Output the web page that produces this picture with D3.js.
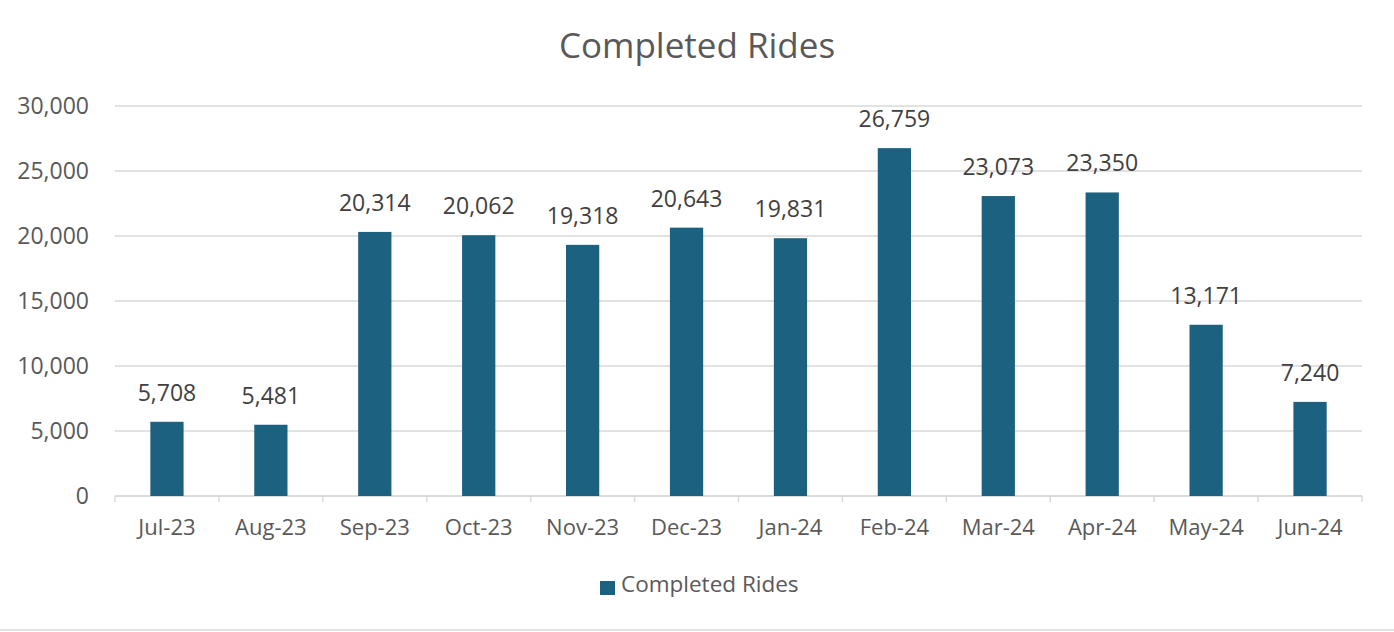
<!DOCTYPE html>
<html>
<head>
<meta charset="utf-8">
<script src="https://cdn.jsdelivr.net/npm/d3@7"></script>
<style>
  body { margin: 0; background: #fff; }
  text { font-family: "Open Sans", "Noto Sans", sans-serif; fill: #595959; }
</style>
</head>
<body>
<div id="plot"></div>
<script>
var months = ["Jul-23", "Aug-23", "Sep-23", "Oct-23", "Nov-23", "Dec-23",
              "Jan-24", "Feb-24", "Mar-24", "Apr-24", "May-24", "Jun-24"];
var rides = [5708, 5481, 20314, 20062, 19318, 20643, 19831, 26759, 23073, 23350, 13171, 7240];
var yTicks = [0, 5000, 10000, 15000, 20000, 25000, 30000];
var seriesName = "Completed Rides";

var W = 1394, H = 632;
var margin = {top: 106, right: 32, bottom: 136, left: 115},
    width = W - margin.left - margin.right,
    height = H - margin.top - margin.bottom;

var svg = d3.select("#plot")
  .append("svg")
    .attr("width", W)
    .attr("height", H);

var g = svg.append("g")
    .attr("transform", "translate(" + margin.left + "," + margin.top + ")");

var x = d3.scaleBand()
    .domain(months)
    .range([0, width])
    .paddingInner(0.68)
    .paddingOuter(0.34);

var y = d3.scaleLinear()
    .domain([0, 30000])
    .range([height, 0]);

var fmt = d3.format(",");

// gridlines
g.selectAll(".grid")
    .data(yTicks)
    .enter()
    .append("line")
      .attr("x1", 0)
      .attr("x2", width)
      .attr("y1", function(d) { return y(d); })
      .attr("y2", function(d) { return y(d); })
      .style("stroke", "#d9d9d9")
      .style("stroke-width", 1.3);

// y labels
g.selectAll(".ylab")
    .data(yTicks)
    .enter()
    .append("text")
      .attr("x", -26)
      .attr("y", function(d) { return y(d); })
      .attr("dy", "0.35em")
      .attr("text-anchor", "end")
      .style("font-size", "23px")
      .text(function(d) { return fmt(d); });

// x axis baseline + ticks
var step = x.step();
g.append("line")
    .attr("x1", 0).attr("x2", width)
    .attr("y1", height).attr("y2", height)
    .style("stroke", "#d9d9d9")
    .style("stroke-width", 1.5);

g.selectAll(".xtick")
    .data(d3.range(months.length + 1))
    .enter()
    .append("line")
      .attr("x1", function(i) { return i * step; })
      .attr("x2", function(i) { return i * step; })
      .attr("y1", height)
      .attr("y2", height + 6)
      .style("stroke", "#d9d9d9")
      .style("stroke-width", 1.5);

g.selectAll(".xlab")
    .data(months)
    .enter()
    .append("text")
      .attr("x", function(d) { return x(d) + x.bandwidth() / 2; })
      .attr("y", height + 39)
      .attr("text-anchor", "middle")
      .style("font-size", "22px")
      .text(function(d) { return d; });

// bars
g.selectAll(".bar")
    .data(rides)
    .enter()
    .append("rect")
      .attr("x", function(d, i) { return x(months[i]); })
      .attr("y", function(d) { return y(d); })
      .attr("width", x.bandwidth())
      .attr("height", function(d) { return height - y(d); })
      .style("fill", "#1d6180");

// value labels
g.selectAll(".val")
    .data(rides)
    .enter()
    .append("text")
      .attr("x", function(d, i) { return x(months[i]) + x.bandwidth() / 2; })
      .attr("y", function(d) { return y(d) - 21; })
      .attr("text-anchor", "middle")
      .style("font-size", "23px")
      .style("fill", "#404040")
      .text(function(d) { return fmt(d); });

// title
svg.append("text")
    .attr("x", W / 2)
    .attr("y", 58)
    .attr("text-anchor", "middle")
    .style("font-size", "35px")
    .text(seriesName);

// legend
var leg = svg.append("g").attr("transform", "translate(600,581)");
leg.append("rect")
    .attr("width", 15).attr("height", 14)
    .style("fill", "#1d6180");
leg.append("text")
    .attr("x", 21)
    .attr("y", 11)
    .style("font-size", "22.5px")
    .text(seriesName);

// bottom border
svg.append("line")
    .attr("x1", 0).attr("x2", W)
    .attr("y1", 630).attr("y2", 630)
    .style("stroke", "#d9d9d9")
    .style("stroke-width", 1.5);
</script>
</body>
</html>
